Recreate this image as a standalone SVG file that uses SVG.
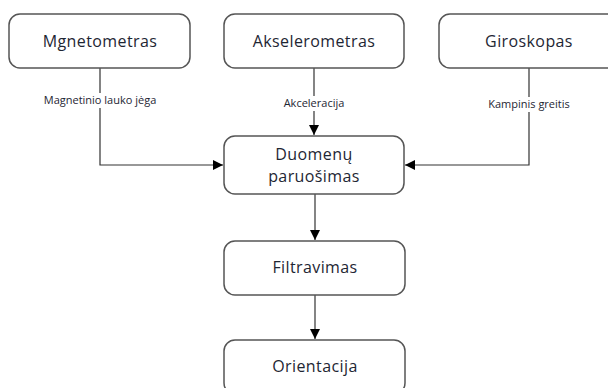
<svg xmlns="http://www.w3.org/2000/svg" width="608" height="388" viewBox="0 0 608 388">
  <defs>
    <marker id="arrow" viewBox="0 0 10 10" refX="10" refY="5" markerWidth="10" markerHeight="10" markerUnits="userSpaceOnUse" orient="auto">
      <path d="M0,0 L10,5 L0,10 z" fill="#000"/>
    </marker>
    <style>
      .box { fill: #fff; stroke: #555; stroke-width: 1.5; }
      .txt { font-family: "Open Sans", "Noto Sans", sans-serif; font-size: 16px; letter-spacing: 0.4px; fill: #1e2633; text-anchor: middle; }
      .edge { fill: none; stroke: #333; stroke-width: 1.2; marker-end: url(#arrow); }
      .lbl { font-family: "Open Sans", "Noto Sans", sans-serif; font-size: 11px; fill: #1e2633; text-anchor: middle; }
      .lblbg { fill: #fff; }
    </style>
  </defs>
  <rect width="608" height="388" fill="#fff"/>

  <g id="connectors">
    <path class="edge" d="M100,68 V165 H223"/>
    <path class="edge" d="M314,68 V135"/>
    <path class="edge" d="M529,68 V165 H405"/>
    <path class="edge" d="M315,194 V240"/>
    <path class="edge" d="M315,295 V339"/>
    <rect class="lblbg" x="38" y="93" width="124" height="15"/>
    <text class="lbl" x="100" y="104">Magnetinio lauko jėga</text>
    <rect class="lblbg" x="278" y="96" width="72" height="15"/>
    <text class="lbl" x="314" y="107">Akceleracija</text>
    <rect class="lblbg" x="482" y="97" width="94" height="15"/>
    <text class="lbl" x="529" y="108">Kampinis greitis</text>
  </g>

  <g id="mgnetometras">
    <rect class="box" x="9" y="14" width="181" height="54" rx="11"/>
    <text class="txt" x="100" y="47">Mgnetometras</text>
  </g>
  <g id="akselerometras">
    <rect class="box" x="224" y="14" width="180" height="54" rx="11"/>
    <text class="txt" x="314" y="47">Akselerometras</text>
  </g>
  <g id="giroskopas">
    <rect class="box" x="439" y="14" width="180" height="54" rx="11"/>
    <text class="txt" x="529" y="47">Giroskopas</text>
  </g>
  <g id="duomenu-paruosimas">
    <rect class="box" x="224" y="136" width="180" height="58" rx="11"/>
    <text class="txt" x="314" y="160">Duomenų</text>
    <text class="txt" x="314" y="182">paruošimas</text>
  </g>
  <g id="filtravimas">
    <rect class="box" x="224" y="241" width="181" height="54" rx="11"/>
    <text class="txt" x="315" y="273">Filtravimas</text>
  </g>
  <g id="orientacija">
    <rect class="box" x="224" y="340" width="181" height="54" rx="11"/>
    <text class="txt" x="315" y="372">Orientacija</text>
  </g>
</svg>
